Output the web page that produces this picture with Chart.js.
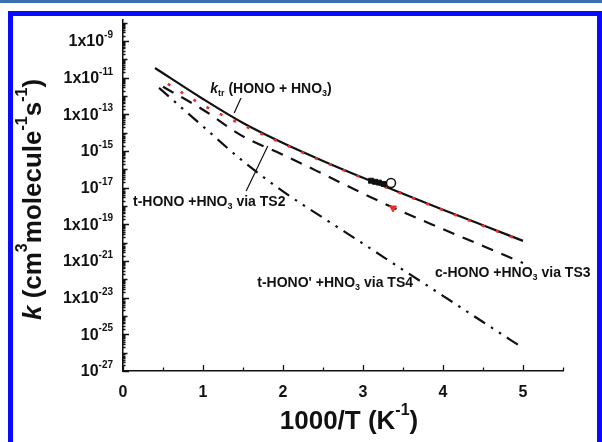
<!DOCTYPE html>
<html><head><meta charset="utf-8">
<script src="https://cdn.jsdelivr.net/npm/chart.js@4.4.1/dist/chart.umd.min.js"></script>
<style>html,body{margin:0;padding:0;background:#fff;overflow:hidden}#wrap{position:relative;width:602px;height:442px}</style>
</head><body><div id="wrap"><canvas id="c" width="602" height="442"></canvas></div>
<script>
// ---- data ----
const xKtr = [0.4, 1.0, 1.5, 2.0, 2.5, 3.0, 3.5, 4.0, 4.5, 5.0];
const kKtr = [3.4e-11, 6.9e-13, 3.4e-14, 2.75e-15, 2.9e-16, 3.5e-17, 4.7e-18, 6.3e-19, 8.9e-20, 1.26e-20];
const xTS2 = [0.56, 1.0, 1.5, 2.0, 2.5, 3.0, 3.5, 4.0, 4.5, 5.0];
const kTS2 = [4.6e-12, 3.2e-13, 2.6e-14, 2.5e-15, 2.7e-16, 3.3e-17, 4.4e-18, 5.9e-19, 8.3e-20, 1.2e-20];
const xTS3 = [0.5, 1.0, 1.5, 2.0, 2.5, 3.0, 3.5, 4.0, 4.5, 5.0];
const kTS3 = [3.2e-12, 1.8e-13, 6.3e-15, 6.3e-16, 5.6e-17, 4.8e-18, 4.7e-19, 5.5e-20, 6.6e-21, 7.8e-22];
const xTS4 = [0.45, 1.0, 1.5, 2.0, 2.5, 3.0, 3.5, 4.0, 4.5, 5.0];
const kTS4 = [2.8e-12, 2.2e-14, 2.8e-16, 6.3e-18, 2.3e-19, 8.9e-21, 3.3e-22, 1.26e-23, 4.7e-25, 1.8e-26];
const xExpFilled = [3.10, 3.15, 3.20, 3.26];
const kExpFilled = [2.4e-17, 2.1e-17, 1.9e-17, 1.6e-17];
const xExpOpen = [3.35];
const kExpOpen = [1.8e-17];
const xExpRed = [3.375];
const kExpRed = [7.8e-19];

const xTickValues = [0, 1, 2, 3, 4, 5];
const yTickExponents = [-27, -25, -23, -21, -19, -17, -15, -13, -11, -9];
const yTickPrefixes = ['10', '10', '1x10', '1x10', '1x10', '10', '10', '1x10', '1x10', '1x10'];

const xTitle = [['1000/T (K', 'n'], ['-1', 'sup'], [')', 'n']];
const yTitle = [['k', 'i'], [' (cm', 'n'], ['3', 'sup'], ['molecule', 'n'], ['-1', 'sup'], ['s', 'n'], ['-1', 'sup'], [')', 'n']];
const labelKtr = [['k', 'i'], ['tr', 'sub'], [' (HONO + HNO', 'n'], ['3', 'sub'], [')', 'n']];
const labelTS2 = [['t-HONO +HNO', 'n'], ['3', 'sub'], [' via TS2', 'n']];
const labelTS3 = [['c-HONO +HNO', 'n'], ['3', 'sub'], [' via TS3', 'n']];
const labelTS4 = [["t-HONO' +HNO", 'n'], ['3', 'sub'], [' via TS4', 'n']];
// annotation anchors in data units: [x, k]
const posKtr = [1.09, 2.4e-12];
const ptrKtr = [[1.475, 7.8e-13], [1.39, 1.2e-13]];
const posTS2 = [0.125, 1.66e-18];
const ptrTS2 = [[1.54, 6.6e-18], [1.81, 1.86e-15]];
const posTS3 = [3.9, 2.24e-22];
const posTS4 = [3.625, 6.3e-23];

const FAM = "'Liberation Sans', Arial, Helvetica, sans-serif";
const pts = (xs, ks) => xs.map((x, i) => ({x: x, y: ks[i]}));

function fontFor(s, size) {
  const small = Math.round(size * 0.62);
  if (s === 'i') return 'italic bold ' + size + 'px ' + FAM;
  if (s === 'sub' || s === 'sup') return 'bold ' + small + 'px ' + FAM;
  return 'bold ' + size + 'px ' + FAM;
}
function richWidth(ctx, runs, size) {
  let w = 0;
  for (const [t, s] of runs) { ctx.font = fontFor(s, size); w += ctx.measureText(t).width; }
  return w;
}
function drawRich(ctx, runs, x, y, size, align) {
  const w = richWidth(ctx, runs, size);
  let cx = align === 'center' ? x - w / 2 : (align === 'right' ? x - w : x);
  ctx.textBaseline = 'middle';
  ctx.textAlign = 'left';
  for (const [t, s] of runs) {
    ctx.font = fontFor(s, size);
    let dy = 0;
    if (s === 'sup') dy = -size * 0.42;
    if (s === 'sub') dy = size * 0.3;
    ctx.fillText(t, cx, y + dy);
    cx += ctx.measureText(t).width;
  }
}

const decor = {
  id: 'decor',
  beforeDraw(chart) {
    const ctx = chart.ctx;
    ctx.save();
    ctx.fillStyle = '#ffffff';
    ctx.fillRect(0, 0, chart.width, chart.height);
    ctx.fillStyle = '#3a70b0';
    ctx.fillRect(0, 0, 602, 3);
    ctx.fillStyle = '#0a0aff';
    ctx.fillRect(8, 11, 594, 5);
    ctx.fillRect(8, 11, 5, 431);
    ctx.fillRect(597, 11, 5, 431);
    ctx.restore();
  },
  afterDraw(chart) {
    const ctx = chart.ctx;
    const xs = chart.scales.x, ys = chart.scales.y;
    const a = chart.chartArea;
    ctx.save();
    ctx.strokeStyle = '#111';
    ctx.lineWidth = 1.3;
    ctx.beginPath();
    // x ticks (inward)
    for (let v = 0; v <= 5.5001; v += 0.5) {
      const px = Math.round(xs.getPixelForValue(v)) + 0.5;
      const len = Math.abs(v - Math.round(v)) < 1e-6 ? 6 : 3.5;
      ctx.moveTo(px, a.bottom); ctx.lineTo(px, a.bottom - len);
    }
    // y ticks (inward)
    for (let e = -27; e <= -8; e++) {
      for (let m = 1; m <= 9; m++) {
        const val = m * Math.pow(10, e);
        if (val > ys.max * 1.0001) continue;
        const py = Math.round(ys.getPixelForValue(val)) + 0.5;
        let len = 2.5;
        if (m === 1) len = (e % 2 !== 0) ? 6 : 4.5;
        ctx.moveTo(a.left, py); ctx.lineTo(a.left + len, py);
      }
    }
    ctx.stroke();
    // y tick labels
    ctx.fillStyle = '#111';
    yTickExponents.forEach((e, i) => {
      const py = ys.getPixelForValue(Math.pow(10, e));
      drawRich(ctx, [[yTickPrefixes[i], 'n'], [String(e), 'sup']], a.left - 10, py + 1, 16, 'right');
    });
    // pointer lines
    ctx.lineWidth = 1.2;
    ctx.beginPath();
    for (const p of [ptrKtr, ptrTS2]) {
      ctx.moveTo(xs.getPixelForValue(p[0][0]), ys.getPixelForValue(p[0][1]));
      ctx.lineTo(xs.getPixelForValue(p[1][0]), ys.getPixelForValue(p[1][1]));
    }
    ctx.stroke();
    // annotation labels
    drawRich(ctx, labelKtr, xs.getPixelForValue(posKtr[0]), ys.getPixelForValue(posKtr[1]), 14, 'left');
    drawRich(ctx, labelTS2, xs.getPixelForValue(posTS2[0]), ys.getPixelForValue(posTS2[1]), 14, 'left');
    drawRich(ctx, labelTS3, xs.getPixelForValue(posTS3[0]), ys.getPixelForValue(posTS3[1]), 14, 'left');
    drawRich(ctx, labelTS4, xs.getPixelForValue(posTS4[0]), ys.getPixelForValue(posTS4[1]), 14, 'right');
    // axis titles
    drawRich(ctx, xTitle, (a.left + a.right) / 2 + 6, 422, 26, 'center');
    ctx.translate(34, (a.top + a.bottom) / 2 + 4);
    ctx.rotate(-Math.PI / 2);
    drawRich(ctx, yTitle, 0, 0, 26, 'center');
    ctx.restore();
  }
};

new Chart(document.getElementById('c'), {
  type: 'line',
  data: {
    datasets: [
      {data: pts(xExpRed, kExpRed), showLine: false, pointStyle: 'triangle', rotation: 180, pointRadius: 4, backgroundColor: '#e8302a', borderColor: '#e8302a', borderWidth: 1},
      {data: pts(xExpOpen, kExpOpen), showLine: false, pointStyle: 'circle', pointRadius: 4.5, backgroundColor: '#fff', borderColor: '#111', borderWidth: 1.5},
      {data: pts(xExpFilled, kExpFilled), showLine: false, pointStyle: 'rect', pointRadius: 3.5, backgroundColor: '#111', borderColor: '#111', borderWidth: 1},
      {data: pts(xTS2, kTS2), borderColor: '#e8302a', borderWidth: 2.6, borderDash: [3, 12], pointRadius: 0, cubicInterpolationMode: 'monotone', fill: false},
      {data: pts(xKtr, kKtr), borderColor: '#111', borderWidth: 2.2, pointRadius: 0, cubicInterpolationMode: 'monotone', fill: false},
      {data: pts(xTS3, kTS3), borderColor: '#111', borderWidth: 2.2, borderDash: [12, 9], pointRadius: 0, cubicInterpolationMode: 'monotone', fill: false},
      {data: pts(xTS4, kTS4), borderColor: '#111', borderWidth: 2.2, borderDash: [13, 7, 2.5, 7, 2.5, 7], pointRadius: 0, cubicInterpolationMode: 'monotone', fill: false}
    ]
  },
  options: {
    responsive: false,
    animation: false,
    events: [],
    layout: {padding: {left: 0, right: 39, top: 20, bottom: 0}},
    plugins: {legend: {display: false}, tooltip: {enabled: false}, title: {display: false}},
    scales: {
      x: {
        type: 'linear', min: 0, max: 5.5,
        afterBuildTicks: s => { s.ticks = xTickValues.map(v => ({value: v})); },
        afterFit: s => { s.height = 71; },
        grid: {display: false, drawTicks: false},
        border: {display: true, color: '#111', width: 1.5},
        ticks: {color: '#111', padding: 12, font: {family: FAM, size: 16, weight: 'bold'}, maxRotation: 0, autoSkip: false}
      },
      y: {
        type: 'logarithmic', min: 1e-27, max: Math.pow(10, -7.85),
        afterBuildTicks: s => { s.ticks = yTickExponents.map(e => ({value: Math.pow(10, e)})); },
        afterFit: s => { s.width = 123; },
        grid: {display: false, drawTicks: false},
        border: {display: true, color: '#111', width: 1.5},
        ticks: {display: false}
      }
    }
  },
  plugins: [decor]
});
</script>
</body></html>
